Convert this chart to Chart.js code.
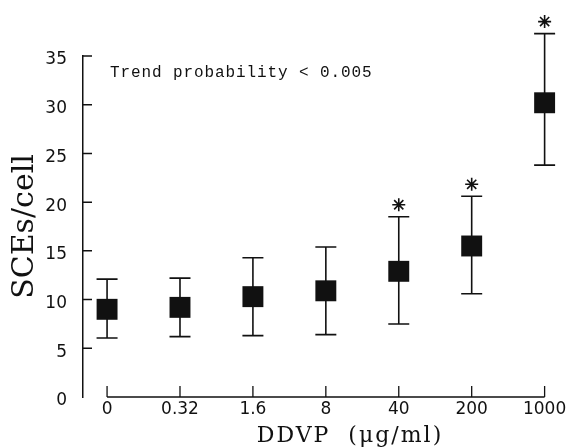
<!DOCTYPE html>
<html><head><meta charset="utf-8">
<script src="https://cdn.jsdelivr.net/npm/chart.js@4.4.0/dist/chart.umd.min.js"></script>
<style>html,body{margin:0;padding:0;background:#fff;}canvas{display:block;}</style>
</head><body>
<canvas id="c" width="574" height="448"></canvas>
<script>
const doses = ['0', '0.32', '1.6', '8', '40', '200', '1000'];
const meanSCE = [9.0, 9.2, 10.3, 10.9, 12.9, 15.5, 30.2];
const upperSCE = [12.1, 12.2, 14.3, 15.4, 18.5, 20.6, 37.3];
const lowerSCE = [6.05, 6.2, 6.3, 6.4, 7.5, 10.6, 23.8];
const significant = [false, false, false, false, true, true, true];
const yTicks = [0, 5, 10, 15, 20, 25, 30, 35];
const xTitle = 'DDVP  (\u03bcg/ml)';
const yTitle = 'SCEs/cell';
const note = 'Trend probability < 0.005';

const INK = '#111';

const decor = {
  id: 'decor',
  beforeDatasetsDraw(chart) {
    const {ctx, chartArea, scales: {x, y}} = chart;
    ctx.save();
    ctx.strokeStyle = INK;
    ctx.fillStyle = INK;
    ctx.lineWidth = 1.6;
    ctx.beginPath();
    doses.forEach((d, i) => {
      const px = x.getPixelForValue(i);
      const yu = y.getPixelForValue(upperSCE[i]);
      const yl = y.getPixelForValue(lowerSCE[i]);
      ctx.moveTo(px, yu); ctx.lineTo(px, yl);
      ctx.moveTo(px - 10.5, yu); ctx.lineTo(px + 10.5, yu);
      ctx.moveTo(px - 10.5, yl); ctx.lineTo(px + 10.5, yl);
    });
    ctx.stroke();
    doses.forEach((d, i) => {
      if (significant[i]) {
        const px = x.getPixelForValue(i);
        const yu = y.getPixelForValue(upperSCE[i]);
        Chart.helpers.drawPoint(ctx, {pointStyle: 'star', radius: 6.5, rotation: 0, borderWidth: 1.8}, px, yu - 12);
      }
    });
    // x axis baseline with inward ticks
    const yb = y.getPixelForValue(0);
    ctx.lineWidth = 1.3;
    ctx.beginPath();
    ctx.moveTo(x.getPixelForValue(0), yb);
    ctx.lineTo(x.getPixelForValue(doses.length - 1), yb);
    doses.forEach((d, i) => {
      const px = x.getPixelForValue(i);
      ctx.moveTo(px, yb); ctx.lineTo(px, yb - 11);
    });
    ctx.stroke();
    // y axis inward ticks
    ctx.lineWidth = 1.5;
    ctx.beginPath();
    yTicks.forEach(v => {
      if (v === 0) return;
      const py = y.getPixelForValue(v);
      ctx.moveTo(chartArea.left, py); ctx.lineTo(chartArea.left + 9, py);
    });
    ctx.stroke();
    ctx.restore();
  },
  afterDraw(chart) {
    const {ctx} = chart;
    ctx.save();
    ctx.fillStyle = INK;
    ctx.textBaseline = 'alphabetic';
    ctx.textAlign = 'left';
    ctx.font = '16px "Liberation Mono"';
    ctx.letterSpacing = '0.9px';
    ctx.fillText(note, 110, 77);
    ctx.font = '22px "DejaVu Serif"';
    ctx.letterSpacing = '2px';
    ctx.textAlign = 'center';
    ctx.fillText(xTitle, 350, 442);
    ctx.restore();
  }
};

new Chart(document.getElementById('c'), {
  type: 'scatter',
  data: {
    datasets: [{
      data: meanSCE.map((v, i) => ({x: i, y: v})),
      pointStyle: 'rect',
      pointRadius: 14.8,
      pointHoverRadius: 14.8,
      backgroundColor: INK,
      borderWidth: 0,
      showLine: false,
      clip: false
    }]
  },
  options: {
    responsive: false,
    animation: false,
    layout: {padding: {left: 0, top: 56, right: 11, bottom: 0}},
    plugins: {legend: {display: false}, tooltip: {enabled: false}},
    scales: {
      x: {
        type: 'linear',
        min: -0.33,
        max: 6.2,
        afterBuildTicks: s => { s.ticks = doses.map((d, i) => ({value: i})); },
        afterFit: s => { s.height = 51; },
        grid: {display: false, drawTicks: false},
        border: {display: false},
        ticks: {
          callback: v => doses[v],
          autoSkip: false,
          maxRotation: 0,
          padding: 2,
          color: INK,
          font: {family: 'DejaVu Sans', size: 17}
        }
      },
      y: {
        min: 0,
        max: 35,
        afterBuildTicks: s => { s.ticks = yTicks.map(v => ({value: v})); },
        afterFit: s => { s.width = 83; },
        grid: {display: false, drawTicks: false},
        border: {display: true, color: INK, width: 1.5},
        ticks: {
          padding: 16,
          labelOffset: 4,
          color: INK,
          font: {family: 'DejaVu Sans', size: 17}
        },
        title: {
          display: true,
          text: yTitle,
          color: INK,
          font: {family: 'DejaVu Serif', size: 30, lineHeight: 1},
          padding: {top: 10, bottom: 0}
        }
      }
    }
  },
  plugins: [decor]
});
</script>
</body></html>
